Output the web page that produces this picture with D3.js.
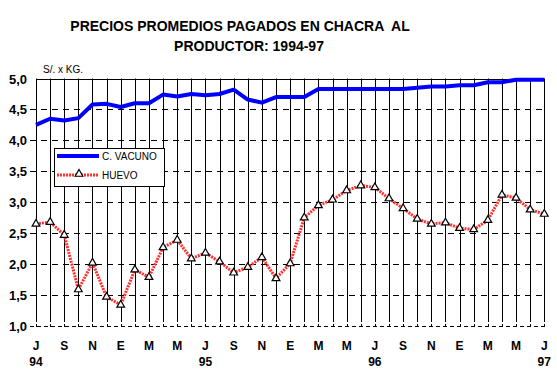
<!DOCTYPE html>
<html><head><meta charset="utf-8">
<script src="https://cdn.jsdelivr.net/npm/d3@7"></script>
<style>body{margin:0;background:#fff}svg{display:block}text{font-family:"Liberation Sans",Arial,sans-serif}</style>
</head><body><svg id="c" width="557" height="378"></svg>
<script>
const monthLabels = ["J","","S","","N","","E","","M","","M","","J","","S","","N","","E","","M","","M","","J","","S","","N","","E","","M","","M","","J"];
const yearLabels = [{i:0,t:"94"},{i:12,t:"95"},{i:24,t:"96"},{i:36,t:"97"}];
const vacuno = [4.25,4.35,4.32,4.36,4.58,4.59,4.54,4.60,4.60,4.74,4.71,4.75,4.73,4.75,4.82,4.66,4.61,4.70,4.70,4.70,4.83,4.83,4.83,4.83,4.83,4.83,4.83,4.85,4.87,4.87,4.89,4.89,4.94,4.94,4.98,4.98,4.98];
const huevo = [2.65,2.68,2.47,1.59,2.02,1.47,1.34,1.91,1.79,2.27,2.39,2.09,2.18,2.04,1.86,1.95,2.11,1.77,2.01,2.75,2.95,3.04,3.19,3.27,3.24,3.06,2.90,2.73,2.65,2.67,2.58,2.56,2.71,3.12,3.07,2.88,2.81];
const yTicks = [1.0,1.5,2.0,2.5,3.0,3.5,4.0,4.5,5.0];
const seriesNames = ["C. VACUNO","HUEVO"];

const svg = d3.select("#c");
const x = d3.scaleLinear().domain([0,36]).range([36,544.3]);
const y = d3.scaleLinear().domain([1,5]).range([326,78.5]);
const fmt = v => d3.format(".1f")(v).replace(".",",");

// title
svg.append("text").attr("x",240).attr("y",31).attr("text-anchor","middle").attr("font-size","14px").attr("font-weight","bold").style("white-space","pre").text("PRECIOS PROMEDIOS PAGADOS EN CHACRA  AL");
svg.append("text").attr("x",249).attr("y",51).attr("text-anchor","middle").attr("font-size","14px").attr("font-weight","bold").text("PRODUCTOR: 1994-97");

// horizontal grid
yTicks.forEach(v=>{
  svg.append("line").attr("x1",v===5?36:30).attr("x2",544.3).attr("y1",Math.round(y(v))+0.5).attr("y2",Math.round(y(v))+0.5)
    .attr("stroke","#000").attr("stroke-width",1)
    .attr("stroke-dasharray", v===5 ? null : (v===1 ? "4,3" : "6,5"));
  svg.append("text").attr("x",27).attr("y",Math.round(y(v))+5).attr("text-anchor","end")
    .attr("font-size","13px").attr("font-weight","bold").text(fmt(v));
});
// vertical grid
d3.range(37).forEach(i=>{
  svg.append("line").attr("x1",Math.round(x(i))+0.5).attr("x2",Math.round(x(i))+0.5)
    .attr("y1",y(5)).attr("y2",322).attr("stroke","#000").attr("stroke-width",1);
  svg.append("line").attr("x1",Math.round(x(i))+0.5).attr("x2",Math.round(x(i))+0.5)
    .attr("y1",Math.round(y(1))-2).attr("y2",Math.round(y(1))+1).attr("stroke","#000").attr("stroke-width",1);
});

svg.append("text").attr("x",43).attr("y",73).attr("font-size","10px").text("S/. x KG.");

// x labels
monthLabels.forEach((t,i)=>{ if(t) svg.append("text").attr("x",x(i)).attr("y",350).attr("text-anchor","middle")
  .attr("font-size","12px").attr("font-weight","bold").text(t); });
yearLabels.forEach(d=>svg.append("text").attr("x",x(d.i)).attr("y",366).attr("text-anchor","middle")
  .attr("font-size","12px").attr("font-weight","bold").text(d.t));

const redStroke = "#ff3030";
const line = d3.line().x((d,i)=>x(i)).y(d=>y(d));
svg.append("path").datum(vacuno).attr("d",line).attr("fill","none").attr("stroke","#0000ff").attr("stroke-width",4).attr("stroke-linejoin","round");
svg.append("path").datum(huevo).attr("d",line).attr("fill","none").attr("stroke",redStroke).attr("stroke-width",3).attr("stroke-dasharray","2,1");
const tri = d3.symbol().type(d3.symbolTriangle).size(26);
svg.selectAll(".tri").data(huevo).enter().append("path").attr("class","tri")
  .attr("transform",(d,i)=>`translate(${x(i)},${y(d)})`).attr("d",tri)
  .attr("fill","#fff").attr("stroke","#000").attr("stroke-width",1.2);

// legend
const lg = svg.append("g");
lg.append("rect").attr("x",54.5).attr("y",148.5).attr("width",110).attr("height",38).attr("fill","#fff").attr("stroke","#000");
lg.append("line").attr("x1",57).attr("x2",99).attr("y1",156).attr("y2",156).attr("stroke","#0000ff").attr("stroke-width",4);
lg.append("text").attr("x",102).attr("y",160).attr("font-size","10px").text(seriesNames[0]);
lg.append("line").attr("x1",57).attr("x2",99).attr("y1",175).attr("y2",175).attr("stroke",redStroke).attr("stroke-width",3).attr("stroke-dasharray","2,1");
lg.append("path").attr("transform","translate(79,174)").attr("d",tri).attr("fill","#fff").attr("stroke","#000").attr("stroke-width",1.2);
lg.append("text").attr("x",102).attr("y",179).attr("font-size","10px").text(seriesNames[1]);
</script></body></html>
